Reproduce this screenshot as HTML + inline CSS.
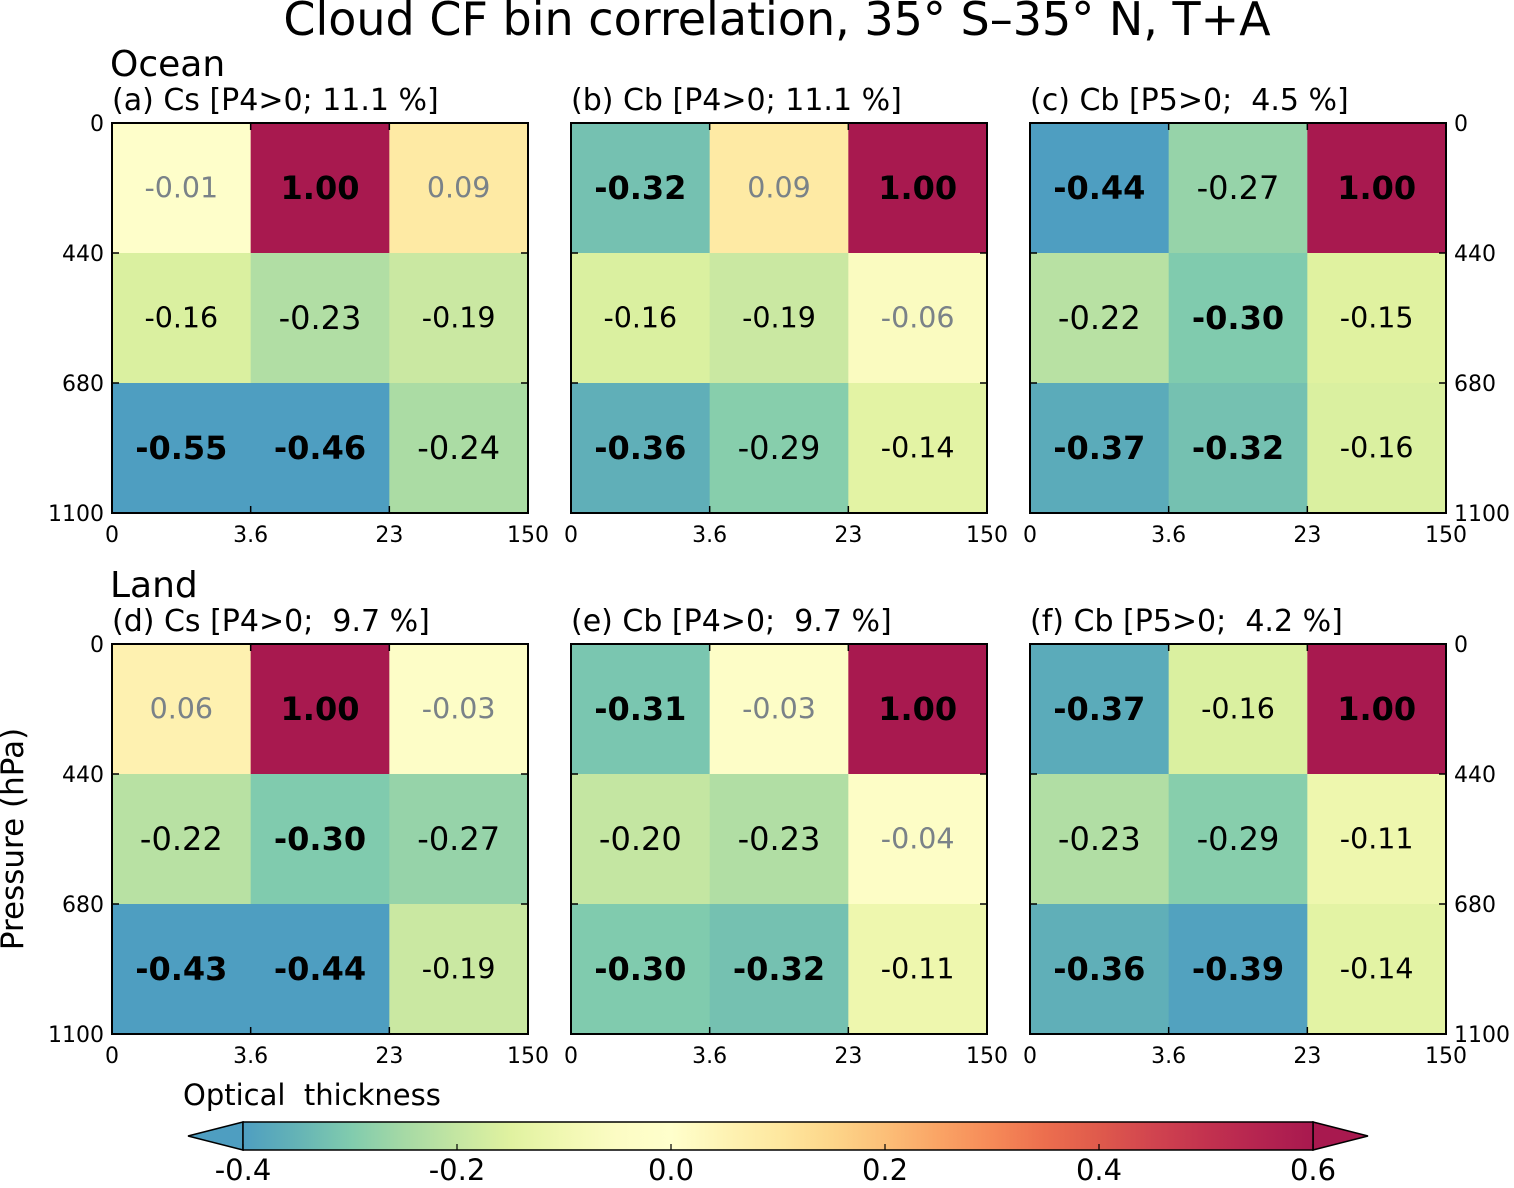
<!DOCTYPE html>
<html><head><meta charset="utf-8">
<style>
body{margin:0;background:#fff;}
svg text{font-family:"DejaVu Sans","Liberation Sans",sans-serif;white-space:pre;}
</style></head>
<body>
<svg id="fig" width="1514" height="1183" viewBox="0 0 1514 1183" xmlns="http://www.w3.org/2000/svg" xml:space="preserve">
<defs>
<linearGradient id="cbg" x1="0" x2="1" y1="0" y2="0"></linearGradient>
</defs>
<text x="777" y="35" font-size="46" text-anchor="middle">Cloud CF bin correlation, 35° S–35° N, T+A</text>
<text x="110" y="76" font-size="36">Ocean</text>
<text x="110" y="597" font-size="36">Land</text>
<text transform="translate(23,839) rotate(-90)" font-size="31" text-anchor="middle">Pressure (hPa)</text>
<text x="183" y="1105" font-size="29">Optical  thickness</text>
<g id="panels"></g>
<g id="cbar"></g>
</svg>
<script>
const titles=["(a) Cs [P4>0; 11.1 %]","(b) Cb [P4>0; 11.1 %]","(c) Cb [P5>0;  4.5 %]","(d) Cs [P4>0;  9.7 %]","(e) Cb [P4>0;  9.7 %]","(f) Cb [P5>0;  4.2 %]"];
const xTicks=["0","3.6","23","150"];
const yTicks=["0","440","680","1100"];
const panelA=[[-0.01,1.00,0.09],[-0.16,-0.23,-0.19],[-0.55,-0.46,-0.24]];
const panelB=[[-0.32,0.09,1.00],[-0.16,-0.19,-0.06],[-0.36,-0.29,-0.14]];
const panelC=[[-0.44,-0.27,1.00],[-0.22,-0.30,-0.15],[-0.37,-0.32,-0.16]];
const panelD=[[0.06,1.00,-0.03],[-0.22,-0.30,-0.27],[-0.43,-0.44,-0.19]];
const panelE=[[-0.31,-0.03,1.00],[-0.20,-0.23,-0.04],[-0.30,-0.32,-0.11]];
const panelF=[[-0.37,-0.16,1.00],[-0.23,-0.29,-0.11],[-0.36,-0.39,-0.14]];
const panels=[panelA,panelB,panelC,panelD,panelE,panelF];
const cbTicks=[-0.4,-0.2,0.0,0.2,0.4,0.6];
const vmin=-0.4,vmax=0.6;
const stops=[["#4e9ec1",-0.4],["#64b3b6",-0.35],["#80cbae",-0.3],["#a5d9a5",-0.25],["#c4e6a2",-0.2],["#e0f2a0",-0.15],["#f1f8b2",-0.1],["#fcfcc4",-0.05],["#ffffcc",0],["#fef3b4",0.05],["#fee8a0",0.1],["#fdd68a",0.15],["#fcbf78",0.2],["#faa465",0.25],["#f68a58",0.3],["#ec6e4e",0.35],["#df5a4c",0.4],["#d1444f",0.45],["#c3324f",0.5],["#b52450",0.55],["#a8194f",0.6]];
function hex(c){return [1,3,5].map(i=>parseInt(c.substr(i,2),16));}
function cmap(v){v=Math.max(vmin,Math.min(vmax,v));
 for(let i=1;i<stops.length;i++){if(v<=stops[i][1]){const t=(v-stops[i-1][1])/(stops[i][1]-stops[i-1][1]);const a=hex(stops[i-1][0]),b=hex(stops[i][0]);return "rgb("+a.map((x,k)=>Math.round(x+(b[k]-x)*t)).join(",")+")";}}
 return stops[stops.length-1][0];}
const NS="http://www.w3.org/2000/svg";
function mk(tag,at,parent){const e=document.createElementNS(NS,tag);for(const k in at)e.setAttribute(k,at[k]);parent.appendChild(e);return e;}
const px=[112,571,1030],py=[123,644],W=416,H=390;
const G=document.getElementById("panels");
panels.forEach((data,p)=>{
 const x0=px[p%3],y0=py[Math.floor(p/3)];
 const g=mk("g",{},G);
 
 
 const cw=W/3,ch=H/3;
 data.forEach((row,r)=>row.forEach((v,c)=>{
  const rc=mk("rect",{x:x0+c*cw,y:y0+r*ch,width:cw+0.5,height:ch+0.5,fill:cmap(v)},g);
  
  
  const a=Math.abs(v);
  let fs=28.5,fw="normal",col="#000";
  if(a<0.1){col="#7a8288";}
  if(a>=0.2)fs=32;
  if(a>=0.3){fs=32;fw="bold";}
  const t=mk("text",{x:x0+c*cw+cw/2,y:y0+r*ch+ch/2+fs*0.34,"font-size":fs,"font-weight":fw,fill:col,"text-anchor":"middle"},g);
  t.textContent=v.toFixed(2);
  
  
 }));
 const fr=mk("rect",{x:x0,y:y0,width:W,height:H,fill:"none",stroke:"#000","stroke-width":2},g);
 
 
 const tt=mk("text",{x:x0,y:y0-13,"font-size":30},g);
 tt.textContent=titles[p];
 
 
 xTicks.forEach((s,i)=>{
  const x=x0+i*cw;
  mk("line",{x1:x,x2:x,y1:y0+H,y2:y0+H-7,stroke:"#000","stroke-width":1.5},g);
  mk("line",{x1:x,x2:x,y1:y0,y2:y0+7,stroke:"#000","stroke-width":1.5},g);
  const t=mk("text",{x:x,y:y0+H+29,"font-size":22,"text-anchor":"middle"},g);
  t.textContent=s;
  
  
 });
 yTicks.forEach((s,i)=>{
  const y=y0+i*ch;
  mk("line",{x1:x0,x2:x0+7,y1:y,y2:y,stroke:"#000","stroke-width":1.5},g);
  mk("line",{x1:x0+W,x2:x0+W-7,y1:y,y2:y,stroke:"#000","stroke-width":1.5},g);
  if(p%3==0){const t=mk("text",{x:x0-8,y:y+8,"font-size":22,"text-anchor":"end"},g);t.textContent=s;
   
   }
  if(p%3==2){const t=mk("text",{x:x0+W+8,y:y+8,"font-size":22},g);t.textContent=s;
   
   }
 });
});
const grad=document.getElementById("cbg");
stops.forEach(s=>mk("stop",{offset:((s[1]-vmin)/(vmax-vmin)*100)+"%","stop-color":s[0]},grad));
const C=document.getElementById("cbar");
const cx0=243,cx1=1313,cy0=1122,cy1=1150;
const cbx=v=>cx0+(v-vmin)/(vmax-vmin)*(cx1-cx0);
const lt=mk("polygon",{points:`${cx0},${cy0} ${cx0},${cy1} 188,${(cy0+cy1)/2}`,fill:stops[0][0],stroke:"#000","stroke-width":1.5},C);


const rt=mk("polygon",{points:`${cx1},${cy0} ${cx1},${cy1} 1368,${(cy0+cy1)/2}`,fill:stops[stops.length-1][0],stroke:"#000","stroke-width":1.5},C);


const cb=mk("rect",{x:cx0,y:cy0,width:cx1-cx0,height:cy1-cy0,fill:"url(#cbg)",stroke:"#000","stroke-width":1.5},C);


cbTicks.forEach(v=>{
 const x=cbx(v);
 mk("line",{x1:x,x2:x,y1:cy1,y2:cy1-6,stroke:"#000","stroke-width":1.2},C);
 const t=mk("text",{x:x,y:1180,"font-size":29,"text-anchor":"middle"},C);
 t.textContent=v.toFixed(1);
 
 
});
</script>
</body></html>
